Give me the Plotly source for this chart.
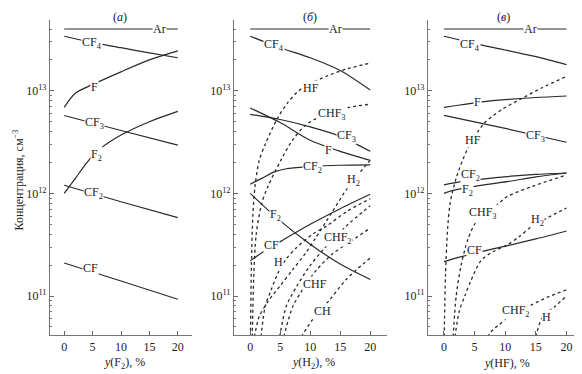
import plotly.graph_objects as go
import numpy as np

# ---------------- data (concentrations, cm^-3) ----------------
xticks = [0, 5, 10, 15, 20]
ytick_vals = [1e11, 1e12, 1e13]
ytick_text = ["10<sup>11</sup>", "10<sup>12</sup>", "10<sup>13</sup>"]
panel_titles = ["(<i>а</i>)", "(<i>б</i>)", "(<i>в</i>)"]
x_titles = ["<i>y</i>(F<sub>2</sub>), %", "<i>y</i>(H<sub>2</sub>), %", "<i>y</i>(HF), %"]
y_title = "Концентрация, см<sup>−3</sup>"

# panel (а): y(F2)
a_Ar_x = [0, 20];                 a_Ar = [4.0e13, 4.0e13]
a_CF4_x = [0, 5, 10, 15, 20];     a_CF4 = [3.4e13, 2.95e13, 2.63e13, 2.34e13, 2.1e13]
a_F_x = [0, 2, 5, 10, 15, 20];    a_F = [6.9e12, 9.5e12, 1.15e13, 1.53e13, 2.0e13, 2.45e13]
a_CF3_x = [0, 10, 20];            a_CF3 = [5.75e12, 4.1e12, 2.95e12]
a_F2_x = [0, 2, 4, 6, 10, 15, 20]; a_F2 = [1.0e12, 1.41e12, 2.0e12, 2.63e12, 3.7e12, 5.0e12, 6.3e12]
a_CF2_x = [0, 10, 20];            a_CF2 = [1.2e12, 8.3e11, 5.8e11]
a_CF_x = [0, 10, 20];             a_CF = [2.1e11, 1.4e11, 9.3e10]

# panel (б): y(H2)
b_Ar_x = [0, 20];                 b_Ar = [4.0e13, 4.0e13]
b_CF4_x = [0, 5, 10, 15, 20];     b_CF4 = [3.4e13, 2.63e13, 2.1e13, 1.58e13, 1.02e13]
b_F_x = [0, 5, 10, 15, 20];       b_F = [6.8e12, 4.9e12, 3.3e12, 2.57e12, 2.1e12]
b_CF3_x = [0, 5, 10, 15, 20];     b_CF3 = [5.9e12, 5.25e12, 4.45e12, 3.6e12, 2.57e12]
b_CF2_x = [0, 2, 4, 6, 10, 15, 20]; b_CF2 = [1.23e12, 1.41e12, 1.62e12, 1.74e12, 1.82e12, 1.88e12, 1.9e12]
b_F2_x = [0, 5, 10, 15, 20];      b_F2 = [1.0e12, 5.4e11, 3.2e11, 2.05e11, 1.45e11]
b_CF_x = [0, 2.2, 5.6, 10, 15, 20]; b_CF = [2.2e11, 2.7e11, 3.55e11, 5.0e11, 7.1e11, 9.8e11]
b_HF_x = [0.05, 0.2, 0.45, 0.8, 1.5, 2.6, 4.55, 6.2, 7.9, 9.3, 13, 16.5, 20]
b_HF = [4.0e10, 2.0e11, 6.3e11, 1.17e12, 2.1e12, 3.1e12, 5.4e12, 7.6e12, 9.8e12, 1.12e13, 1.41e13, 1.66e13, 1.86e13]
b_CHF3_x = [0.35, 0.6, 1.0, 1.9, 2.9, 5.1, 7.05, 9, 10.7, 13.6, 16.5, 20]
b_CHF3 = [4.0e10, 1.6e11, 4.0e11, 7.9e11, 1.15e12, 2.1e12, 3.3e12, 4.5e12, 5.25e12, 6.2e12, 6.9e12, 7.4e12]
b_H2_x = [0.7, 1.5, 3, 5, 7, 9.2, 10.8, 13.6, 16.4, 20]
b_H2 = [4.0e10, 6.3e10, 8.9e10, 1.26e11, 1.78e11, 2.6e11, 3.6e11, 6.5e11, 1.17e12, 2.1e12]
b_H_x = [1.8, 2.5, 3.5, 4.6, 6, 7.7, 10.4, 12.7, 16, 20]
b_H = [4.0e10, 7.9e10, 1.15e11, 1.66e11, 2.3e11, 2.95e11, 4.0e11, 4.8e11, 6.6e11, 8.9e11]
b_CHF2_x = [4.9, 6, 7.7, 9.9, 12.1, 14.3, 16, 20]
b_CHF2 = [4.0e10, 7.9e10, 1.23e11, 1.95e11, 2.8e11, 3.8e11, 4.8e11, 7.6e11]
b_CHF_x = [5.6, 7.1, 9.05, 11, 13.8, 16.4, 20]
b_CHF = [4.0e10, 7.9e10, 1.23e11, 1.78e11, 2.6e11, 3.3e11, 4.6e11]
b_CH_x = [8.5, 10.4, 13.2, 16, 20]
b_CH = [4.0e10, 5.9e10, 9.1e10, 1.45e11, 2.35e11]

# panel (в): y(HF)
c_Ar_x = [0, 20];                 c_Ar = [4.0e13, 4.0e13]
c_CF4_x = [0, 6, 10, 15, 20];     c_CF4 = [3.4e13, 2.8e13, 2.5e13, 2.15e13, 1.8e13]
c_F_x = [0, 6.6, 10, 15, 20];     c_F = [6.9e12, 7.85e12, 8.2e12, 8.6e12, 8.9e12]
c_CF3_x = [0, 10, 20];            c_CF3 = [5.75e12, 4.3e12, 3.15e12]
c_CF2_x = [0, 2.8, 6.3, 10.3, 15, 20]; c_CF2 = [1.21e12, 1.3e12, 1.38e12, 1.46e12, 1.53e12, 1.58e12]
c_F2_x = [0, 1.45, 5, 10.3, 15, 20];   c_F2 = [1.0e12, 1.07e12, 1.17e12, 1.3e12, 1.45e12, 1.58e12]
c_CF_x = [0, 1.5, 6.6, 10.4, 15, 20];  c_CF = [2.16e11, 2.3e11, 2.75e11, 3.1e11, 3.6e11, 4.3e11]
c_HF_x = [0.05, 0.25, 0.6, 1.0, 2.0, 3.9, 6.6, 9.5, 12.5, 16, 20]
c_HF = [4.0e10, 1.58e11, 4.5e11, 7.9e11, 1.41e12, 2.75e12, 4.85e12, 6.6e12, 8.3e12, 1.07e13, 1.38e13]
c_CHF3_x = [1.5, 2.0, 2.8, 3.9, 5.0, 6.3, 8.8, 10.3, 14.4, 20]
c_CHF3 = [4.0e10, 1.0e11, 2.0e11, 3.55e11, 5.0e11, 6.3e11, 7.9e11, 9.3e11, 1.17e12, 1.51e12]
c_H2_x = [1.8, 2.5, 3.4, 4.4, 6.1, 8, 10.4, 12.3, 14.4, 16.8, 20]
c_H2 = [4.0e10, 7.1e10, 1.0e11, 1.41e11, 2.24e11, 2.7e11, 3.16e11, 3.8e11, 4.8e11, 5.75e11, 7.2e11]
c_CHF2_x = [7.1, 8, 9, 10.6, 14.1, 17, 20]
c_CHF2 = [4.0e10, 4.7e10, 5.25e10, 6.3e10, 8.1e10, 9.8e10, 1.15e11]
c_H_x = [15, 16.1, 18.1, 20]
c_H = [4.0e10, 6.3e10, 7.9e10, 1.0e11]

# inline curve labels: (text, x, concentration)
a_labels = [("Ar", 16.8, 4.0e13), ("CF<sub>4</sub>", 4.85, 2.92e13), ("F", 5.4, 1.1e13),
            ("CF<sub>3</sub>", 5.4, 4.85e12), ("F<sub>2</sub>", 5.7, 2.37e12),
            ("CF<sub>2</sub>", 5.1, 1.0e12), ("CF", 4.6, 1.86e11)]
b_labels = [("Ar", 14.2, 4.0e13), ("CF<sub>4</sub>", 3.9, 2.82e13), ("HF", 10.1, 1.07e13),
            ("CHF<sub>3</sub>", 13.6, 6.0e12), ("CF<sub>3</sub>", 16.1, 3.6e12),
            ("F", 13.05, 2.63e12), ("CF<sub>2</sub>", 10.3, 1.82e12), ("H<sub>2</sub>", 17.2, 1.35e12),
            ("F<sub>2</sub>", 4.2, 6.2e11), ("CF", 3.6, 3.16e11), ("H", 4.7, 2.14e11),
            ("CHF<sub>2</sub>", 14.7, 3.7e11), ("CHF", 10.8, 1.32e11), ("CH", 12.0, 7.2e10)]
c_labels = [("Ar", 14.1, 4.0e13), ("CF<sub>4</sub>", 4.2, 2.82e13), ("F", 5.4, 7.85e12),
            ("CF<sub>3</sub>", 15.0, 3.6e12), ("HF", 4.7, 3.3e12), ("CF<sub>2</sub>", 4.4, 1.51e12),
            ("F<sub>2</sub>", 3.9, 1.07e12), ("CHF<sub>3</sub>", 6.3, 6.5e11), ("CF", 4.95, 2.82e11),
            ("H<sub>2</sub>", 15.2, 5.5e11), ("CHF<sub>2</sub>", 11.7, 7.1e10), ("H", 16.8, 6.3e10)]

solid_a = [(a_Ar_x, a_Ar), (a_CF4_x, a_CF4), (a_F_x, a_F), (a_CF3_x, a_CF3),
           (a_F2_x, a_F2), (a_CF2_x, a_CF2), (a_CF_x, a_CF)]
solid_b = [(b_Ar_x, b_Ar), (b_CF4_x, b_CF4), (b_F_x, b_F), (b_CF3_x, b_CF3),
           (b_CF2_x, b_CF2), (b_F2_x, b_F2), (b_CF_x, b_CF)]
dot_b = [(b_HF_x, b_HF), (b_CHF3_x, b_CHF3), (b_H2_x, b_H2), (b_H_x, b_H),
         (b_CHF2_x, b_CHF2), (b_CHF_x, b_CHF), (b_CH_x, b_CH)]
solid_c = [(c_Ar_x, c_Ar), (c_CF4_x, c_CF4), (c_F_x, c_F), (c_CF3_x, c_CF3),
           (c_CF2_x, c_CF2), (c_F2_x, c_F2), (c_CF_x, c_CF)]
dot_c = [(c_HF_x, c_HF), (c_CHF3_x, c_CHF3), (c_H2_x, c_H2), (c_CHF2_x, c_CHF2), (c_H_x, c_H)]

# ---------------- figure ----------------
# the page body adds an 8px margin, so the figure is 8px smaller and all
# page-pixel positions are shifted by 8px
OFF = 8
W, H = 582 - OFF, 374 - OFF
FONT = "Liberation Serif"
LC = "#2a2a2a"
fig = go.Figure()


def px_x(p):
    return (p - OFF) / W


def px_y(p):
    return 1 - (p - OFF) / H


panels = [
    dict(xa="x", ya="y", solid=solid_a, dot=[], labels=a_labels, xr=[-2.5, 22.5], px=(50, 192)),
    dict(xa="x2", ya="y2", solid=solid_b, dot=dot_b, labels=b_labels, xr=[-2.7, 22.8], px=(234, 387)),
    dict(xa="x3", ya="y3", solid=solid_c, dot=dot_c, labels=c_labels, xr=[-2.6, 22.2], px=(428, 580)),
]

minor_vals = [k * 10.0 ** n for n in range(10, 14) for k in range(2, 10)]
ydom = [px_y(335), px_y(20)]
annotations = []
TF = dict(family=FONT, size=12, color="#222")

for i, p in enumerate(panels):
    for xs, ys in p["solid"]:
        fig.add_trace(go.Scatter(x=xs, y=ys, mode="lines", xaxis=p["xa"], yaxis=p["ya"],
                                 line=dict(color=LC, width=1.2, shape="spline", smoothing=0.8),
                                 showlegend=False, hoverinfo="skip"))
    for xs, ys in p["dot"]:
        fig.add_trace(go.Scatter(x=xs, y=ys, mode="lines", xaxis=p["xa"], yaxis=p["ya"],
                                 line=dict(color=LC, width=1.3, dash="dot", shape="spline", smoothing=0.8),
                                 showlegend=False, hoverinfo="skip"))
    for txt, lx, ly in p["labels"]:
        annotations.append(dict(text=txt, x=lx, y=np.log10(ly), xref=p["xa"], yref=p["ya"],
                                xanchor="center", yanchor="middle",
                                showarrow=False, bgcolor="white", borderpad=0, font=TF))
    sfx = "" if i == 0 else str(i + 1)
    x0, x1 = p["px"]
    fig.layout["xaxis" + sfx] = dict(
        domain=[px_x(x0), px_x(x1)], range=p["xr"], anchor=p["ya"], tickvals=xticks,
        ticks="inside", ticklen=4, tickcolor="#666", showline=True, linecolor="#777", linewidth=1.2,
        showgrid=False, zeroline=False, tickfont=TF)
    fig.layout["yaxis" + sfx] = dict(
        domain=ydom, type="log", range=[10.62, 13.69], anchor=p["xa"],
        tickmode="array", tickvals=ytick_vals, ticktext=ytick_text,
        ticks="inside", ticklen=4, tickcolor="#666", showline=True, linecolor="#777", linewidth=1.2,
        minor=dict(tickmode="array", tickvals=minor_vals, ticks="inside", ticklen=2, tickcolor="#777", showgrid=False),
        showgrid=False, zeroline=False, tickfont=TF)
    cx = (x0 + x1) / 2
    annotations.append(dict(text=panel_titles[i], x=px_x(cx - 1), y=1.0,
                            xref="paper", yref="paper", xanchor="center", yanchor="top",
                            showarrow=False, font=TF))
    annotations.append(dict(text=x_titles[i], x=px_x(cx + 3), y=px_y(363), xref="paper", yref="paper",
                            xanchor="center", yanchor="middle", showarrow=False, font=TF))

annotations.append(dict(text=y_title, x=0.0, y=px_y(180), xref="paper", yref="paper",
                        xanchor="left", yanchor="middle",
                        textangle=-90, showarrow=False, font=TF))

fig.update_layout(width=W, height=H, margin=dict(l=0, r=0, t=0, b=0),
                  paper_bgcolor="white", plot_bgcolor="white", annotations=annotations,
                  font=dict(family=FONT, size=12))
fig.write_html("out.html")
